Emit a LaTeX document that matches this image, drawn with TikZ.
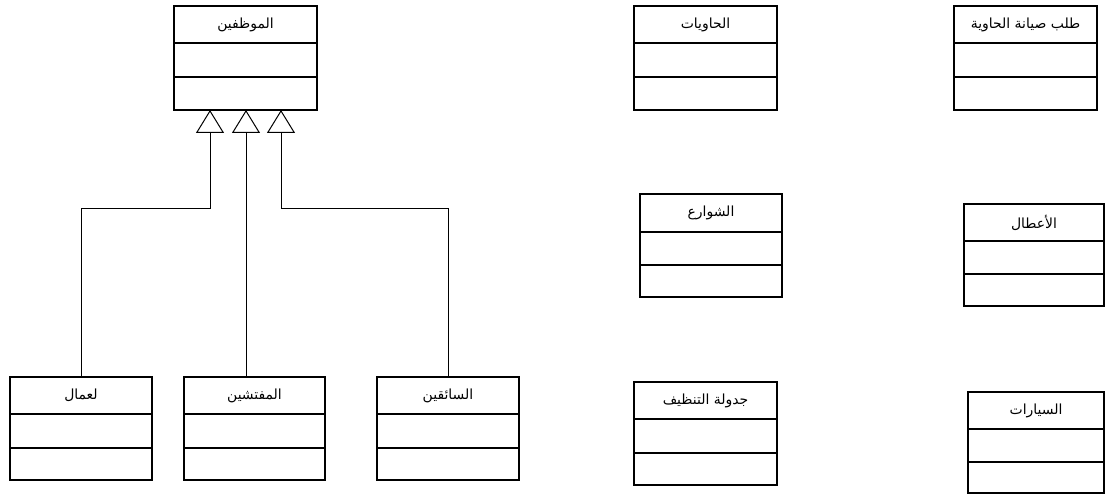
\documentclass[tikz,border=0pt]{standalone}
\usepackage{fontspec}
\TeXXeTstate=1
\newfontfamily\arabicfont[Script=Arabic]{DejaVu Sans}
\usetikzlibrary{arrows.meta}
\tikzset{
  cls/.style={draw, line width=1.2bp, inner sep=0pt, outer sep=0pt, fill=white},
  divline/.style={line width=1.2bp},
  ttl/.style={inner sep=0pt, font=\arabicfont\fontsize{14}{16}\selectfont},
  gen/.style={line width=0.8bp, -{Triangle[open, length=23bp, width=28bp, line width=1bp]}}
}
\newcommand\umlclass[8]{%
  \node[cls, minimum width={(#4-#2)*1bp}, minimum height={(#5-#3)*1bp}] (#1) at ({(#2+#4)/2},{(#3+#5)/2}) {};
  \draw[divline] (#1.west |- 0,#6) -- (#1.east |- 0,#6);
  \draw[divline] (#1.west |- 0,#7) -- (#1.east |- 0,#7);
  \node[ttl] (#1t) at ({(#2+#4)/2},{(#3+#6)/2}) {#8};
}
\begin{document}
\begin{tikzpicture}[x=1bp,y=-1bp]
\useasboundingbox (0,0) rectangle (1105,495);
\umlclass{sup}{174}{6}{317}{110}{43}{77}{\beginR الموظفين\endR}
\umlclass{w}{10}{377}{152}{480}{414}{448}{\beginR لعمال\endR}
\umlclass{m}{184}{377}{325}{480}{414}{448}{\beginR المفتشين\endR}
\umlclass{s}{377}{377}{519}{480}{414}{448}{\beginR السائقين\endR}
\umlclass{h}{634}{6}{777}{110}{43}{77}{\beginR الحاويات\endR}
\umlclass{t}{954}{6}{1097}{110}{43}{77}{\beginR طلب صيانة الحاوية\endR}
\umlclass{sh}{640}{194}{782}{297}{232}{265}{\beginR الشوارع\endR}
\umlclass{a}{964}{204}{1104}{306}{241}{274}{\beginR الأعطال\endR}
\umlclass{j}{634}{382}{777}{485}{419}{453}{\beginR جدولة التنظيف\endR}
\umlclass{c}{968}{392}{1104}{493}{429}{462}{\beginR السيارات\endR}
\coordinate (b1) at (210,208);
\coordinate (b2) at (246,208);
\coordinate (b3) at (281,208);
\draw[gen] (w.north) |- (b1) -- (b1 |- sup.south);
\draw[gen] (b2 |- m.north) -- (b2 |- sup.south);
\draw[gen] (s.north) |- (b3) -- (b3 |- sup.south);
\end{tikzpicture}
\end{document}
